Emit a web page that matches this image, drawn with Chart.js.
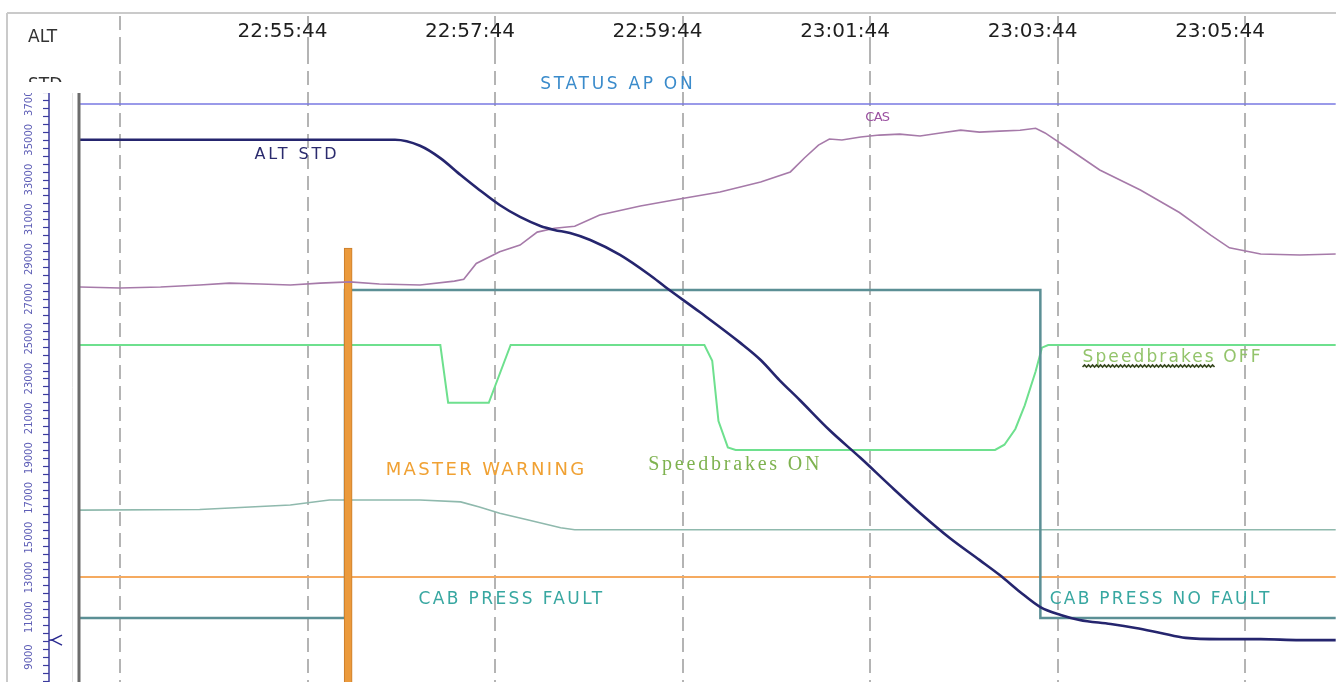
<!DOCTYPE html>
<html>
<head>
<meta charset="utf-8">
<title>ALT STD descent</title>
<script src="https://cdn.jsdelivr.net/npm/chart.js@4.4.0/dist/chart.umd.min.js"></script>
<style>
  html, body { margin: 0; padding: 0; background: #fff; }
  #wrap { width: 1336px; height: 682px; }
</style>
</head>
<body>
<div id="wrap"><canvas id="fdr" width="1336" height="682"></canvas></div>
<script>
// time axis: seconds after 22:53:44
const tickSeconds = [0, 120, 240, 360, 480, 600, 720];
const tickLabels = ['', '22:55:44', '22:57:44', '22:59:44', '23:01:44', '23:03:44', '23:05:44'];

// left ruler labels (feet)
const altTickFeet = [9000, 11000, 13000, 15000, 17000, 19000, 21000, 23000,
  25000, 27000, 29000, 31000, 33000, 35000, 37000];

const altTime = [-26, 176, 192, 205, 218, 230, 243, 256, 269, 278, 288, 301, 320, 339, 349, 371, 397, 410, 422, 435,
  454, 474, 493, 512, 531, 550, 563, 576, 589, 602, 614, 634, 650, 666, 682, 704, 730, 755, 778];
const altFeet = [35000, 35000, 34700, 34080, 33230, 32480, 31720, 31120, 30670, 30470, 30310, 29960, 29210, 28200, 27600, 26340, 24790, 23930, 22920, 21920,
  20410, 19000, 17600, 16240, 14980, 13880, 13120, 12270, 11510, 11110, 10860, 10660, 10460, 10210, 9960, 9900, 9900, 9850, 9850];

const casTime = [-26, 0, 26, 51, 70, 90, 109, 128, 147, 166, 192, 214, 220, 228, 243, 256, 267, 278, 291, 307,
  333, 358, 384, 410, 429, 438, 447, 454, 462, 474, 486, 499, 512, 525, 538, 550, 563, 576, 586, 592,
  608, 627, 653, 678, 698, 710, 730, 755, 778];
const casKts = [250, 249.5, 250, 251, 252, 251.5, 251, 252, 252.6, 251.5, 251, 253, 254, 262, 268, 271.4, 278, 280, 281, 286.7,
  291.3, 294.9, 298.5, 303.6, 308.7, 315.8, 322.4, 325.5, 325, 326.5, 327.5, 328, 327, 328.6, 330, 329, 329.5, 330, 331, 328.6,
  320, 309.7, 299.5, 288, 276.5, 270, 266.8, 266.3, 266.8];

const brakeTime = [-26, 205, 210, 236, 250, 374, 379, 383, 389, 394, 560, 566, 573, 579, 586, 590, 594, 778];
const brakeDeg = [0, 0, 22, 22, 0, 0, 6, 29, 39, 40, 40, 38, 32, 23, 10, 1, 0, 0];

const cabTime = [-26, 144, 144, 589, 589, 778];
const cabFault = [0, 0, 1, 1, 0, 0];

const auxTime = [-26, 51, 109, 134, 166, 192, 218, 230, 243, 262, 282, 291, 320, 435, 563, 691, 778];
const auxPct = [27.2, 27.3, 28.0, 28.8, 28.8, 28.8, 28.5, 27.7, 26.7, 25.6, 24.4, 24.1, 24.1, 24.1, 24.1, 24.1, 24.1];

const apTime = [-26, 778];
const apOn = [1, 1];

const mwTime = [-26, 778];
const mwState = [0, 0];
const mwPulseTime = [146];
const mwPulseState = [1];

const zip = (xs, ys) => xs.map((x, i) => ({ x: x, y: ys[i] }));

// text labels drawn on the plot, anchored to a series scale
const notes = [
  { text: 'STATUS AP ON', t: 269, axis: 'yAP', v: 1, dy: -15, w: 155, size: 17, color: '#3a8bcb' },
  { text: 'CAS', t: 477, axis: 'yCas', v: 330, dy: -9, w: 24, size: 13, color: '#9b51a1' },
  { text: 'ALT STD', t: 86, axis: 'yAlt', v: 35000, dy: 19, w: 85, size: 16, color: '#2b2b6e' },
  { text: 'MASTER WARNING', t: 170, axis: 'yMW', v: 0, dy: -102, w: 201, size: 18, color: '#f0a133' },
  { text: 'Speedbrakes ON', t: 338, axis: 'yBrake', v: 40, dy: 20, w: 174, size: 20, color: '#7eb24f', family: '"Liberation Serif"' },
  { text: 'Speedbrakes OFF', t: 616, axis: 'yBrake', v: 0, dy: 17, w: 180, size: 17, color: '#93c46b', squiggle: 'Speedbrakes' },
  { text: 'CAB PRESS FAULT', t: 191, axis: 'yCab', v: 0, dy: -14, w: 186, size: 17, color: '#38a7a1' },
  { text: 'CAB PRESS NO FAULT', t: 595, axis: 'yCab', v: 0, dy: -14, w: 222, size: 17, color: '#38a7a1' }
];

function line(ctx, x1, y1, x2, y2) {
  ctx.beginPath(); ctx.moveTo(x1, y1); ctx.lineTo(x2, y2); ctx.stroke();
}

const framePlugin = {
  id: 'frame',
  beforeDraw(chart) {
    const ctx = chart.ctx;
    ctx.save();
    ctx.fillStyle = '#fff';
    ctx.fillRect(0, 0, chart.width, chart.height);
    ctx.strokeStyle = '#cacaca';
    ctx.lineWidth = 2;
    line(ctx, 7, 13, chart.width, 13);
    line(ctx, 7, 13, 7, chart.height);
    ctx.fillStyle = '#333';
    ctx.font = '17px "DejaVu Sans"';
    ctx.textBaseline = 'alphabetic';
    ctx.fillText('ALT', 28, 42);
    ctx.beginPath(); ctx.rect(0, 60, 80, 22); ctx.clip();
    ctx.fillText('STD', 28, 90);
    ctx.restore();
  }
};

const rulerPlugin = {
  id: 'ruler',
  afterDatasetsDraw(chart) {
    const ctx = chart.ctx, ys = chart.scales.yAlt;
    const top = 93, bottom = chart.chartArea.bottom;
    ctx.save();
    ctx.strokeStyle = '#e4e4e4'; ctx.lineWidth = 1;
    line(ctx, 72.5, top, 72.5, bottom);
    ctx.beginPath(); ctx.rect(8, top, 70, bottom - top); ctx.clip();
    ctx.strokeStyle = '#3b3b9e'; ctx.lineWidth = 1.5;
    line(ctx, 49, top, 49, bottom);
    ctx.lineWidth = 1.2;
    for (let v = altTickFeet[0] - 1200; v <= ys.max; v += 400) {
      const y = Math.round(ys.getPixelForValue(v)) + 0.5;
      line(ctx, 43, y, 49, y);
    }
    ctx.fillStyle = '#5e5eb6';
    ctx.font = '10px "DejaVu Sans"';
    ctx.textAlign = 'center'; ctx.textBaseline = 'middle';
    altTickFeet.forEach(v => {
      ctx.save();
      ctx.translate(29, ys.getPixelForValue(v));
      ctx.rotate(-Math.PI / 2);
      ctx.fillText(String(v), 0, 0);
      ctx.restore();
    });
    // current value marker
    const yc = ys.getPixelForValue(altFeet[altFeet.length - 1]);
    ctx.strokeStyle = '#2a2a90'; ctx.lineWidth = 1.5;
    ctx.beginPath(); ctx.moveTo(62, yc - 5); ctx.lineTo(52, yc); ctx.lineTo(62, yc + 5); ctx.stroke();
    line(ctx, 49, yc, 53, yc);
    ctx.restore();
    ctx.save();
    ctx.fillStyle = '#6c6c6c';
    ctx.fillRect(77.5, top, 3, bottom - top);
    ctx.restore();
  }
};

const notesPlugin = {
  id: 'notes',
  afterDatasetsDraw(chart) {
    const ctx = chart.ctx, xs = chart.scales.x;
    notes.forEach(n => {
      const x = xs.getPixelForValue(n.t);
      const y = chart.scales[n.axis].getPixelForValue(n.v) + n.dy;
      ctx.save();
      ctx.font = n.size + 'px ' + (n.family || '"DejaVu Sans"');
      ctx.letterSpacing = '0px';
      const w0 = ctx.measureText(n.text).width;
      const ls = (n.w - w0) / n.text.length;
      ctx.letterSpacing = ls + 'px';
      ctx.fillStyle = n.color;
      ctx.textBaseline = 'alphabetic';
      ctx.textAlign = 'left';
      ctx.fillText(n.text, x, y);
      if (n.squiggle) {
        const ws = ctx.measureText(n.squiggle).width;
        ctx.strokeStyle = '#34451c'; ctx.lineWidth = 1.6;
        ctx.beginPath();
        for (let k = 0; k <= ws; k += 2) {
          const yy = y + 5 + ((k / 2) % 2 === 0 ? 0 : -2);
          if (k === 0) ctx.moveTo(x + k, yy); else ctx.lineTo(x + k, yy);
        }
        ctx.stroke();
      }
      ctx.restore();
    });
  }
};

const hidden = { display: false };

new Chart(document.getElementById('fdr'), {
  type: 'line',
  data: {
    datasets: [
      { label: 'ALT STD', data: zip(altTime, altFeet), yAxisID: 'yAlt', borderColor: '#25256e', borderWidth: 2.6, cubicInterpolationMode: 'monotone' },
      { label: 'CAS', data: zip(casTime, casKts), yAxisID: 'yCas', borderColor: '#a67aa9', borderWidth: 1.6 },
      { type: 'bar', label: 'MASTER WARNING', data: zip(mwPulseTime, mwPulseState), yAxisID: 'yMW', base: -1,
        backgroundColor: '#eb9a3c', borderColor: '#c97c2b', borderWidth: 1, barThickness: 8 },
      { label: 'CAB PRESS', data: zip(cabTime, cabFault), yAxisID: 'yCab', borderColor: '#5b8f95', borderWidth: 2.5 },
      { label: 'Speedbrakes', data: zip(brakeTime, brakeDeg), yAxisID: 'yBrake', borderColor: '#6ee08e', borderWidth: 2 },
      { label: 'aux', data: zip(auxTime, auxPct), yAxisID: 'yAux', borderColor: '#8fb9ad', borderWidth: 1.6 },
      { label: 'STATUS AP', data: zip(apTime, apOn), yAxisID: 'yAP', borderColor: '#7878e2', borderWidth: 1.6 },
      { label: 'MASTER WARNING base', data: zip(mwTime, mwState), yAxisID: 'yMW', borderColor: '#f5aa60', borderWidth: 2 }
    ]
  },
  options: {
    responsive: false,
    animation: false,
    events: [],
    layout: { padding: { top: 14, left: 80, right: 0, bottom: 0 } },
    elements: { point: { radius: 0 }, line: { tension: 0 } },
    plugins: { legend: { display: false }, tooltip: { enabled: false } },
    scales: {
      x: {
        type: 'linear', position: 'top', min: -25.6, max: 778.2, offset: false,
        afterBuildTicks: s => { s.ticks = tickSeconds.map(v => ({ value: v })); },
        afterFit: s => { s.height = 36; },
        ticks: {
          callback: (v, i) => tickLabels[i],
          padding: -28, labelOffset: -25, maxRotation: 0, autoSkip: false,
          color: '#1e1e1e', font: { family: '"DejaVu Sans"', size: 20 }
        },
        grid: { offset: false, color: '#b4b4b4', lineWidth: 2, drawTicks: true, tickLength: 34, tickColor: '#b4b4b4', tickWidth: 2, tickBorderDash: [14, 7] },
        border: { display: false, dash: [14, 7] }
      },
      yAlt: Object.assign({ min: 7743, max: 39513 }, hidden),
      yCas: Object.assign({ min: 48.5, max: 370.9 }, hidden),
      yMW: Object.assign({ min: -0.319, max: 1.602 }, hidden),
      yCab: Object.assign({ min: -0.195, max: 1.732 }, hidden),
      yBrake: Object.assign({ min: -112.4, max: 128.4, reverse: true }, hidden),
      yAux: Object.assign({ min: 0, max: 100 }, hidden),
      yAP: Object.assign({ min: 0, max: 1.0934 }, hidden)
    }
  },
  plugins: [framePlugin, rulerPlugin, notesPlugin]
});
</script>
</body>
</html>
